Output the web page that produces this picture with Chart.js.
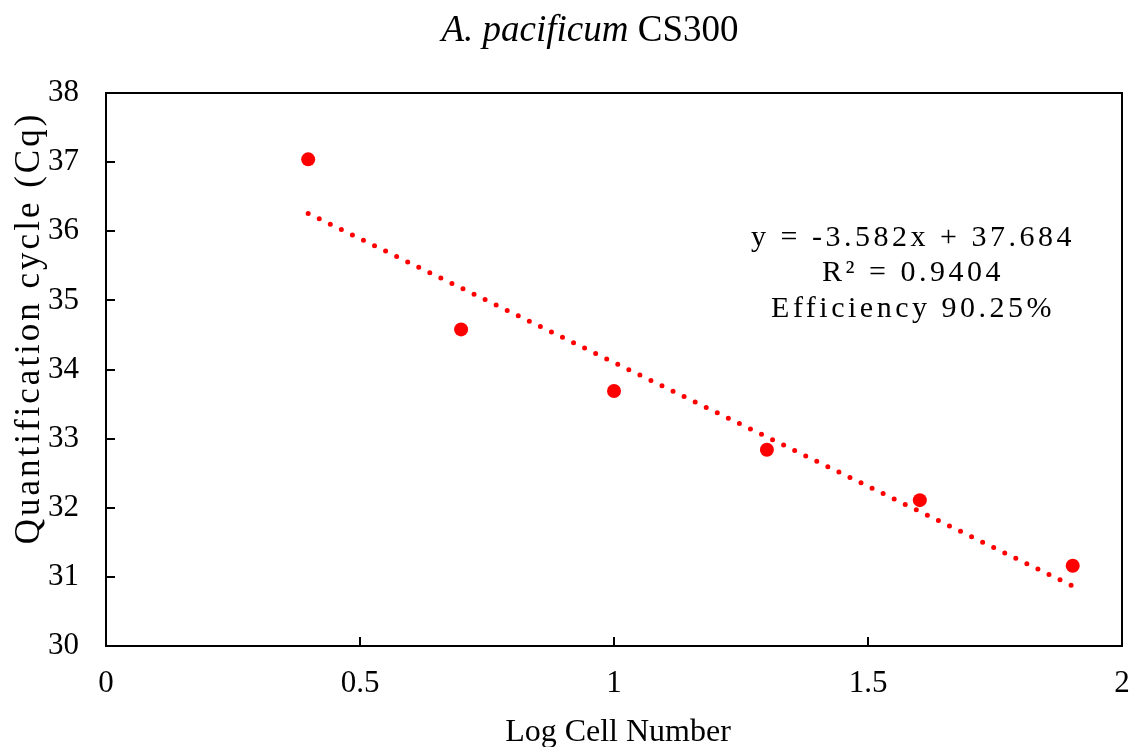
<!DOCTYPE html>
<html>
<head>
<meta charset="utf-8">
<script src="https://cdn.jsdelivr.net/npm/chart.js@4.4.1/dist/chart.umd.min.js"></script>
<style>
  html, body { margin: 0; padding: 0; background: #fff; }
  #wrap { width: 1136px; height: 747px; position: relative; }
</style>
</head>
<body>
<div id="wrap"><canvas id="c" width="1136" height="747"></canvas></div>
<script>
// Log10 of cell number per reaction and the measured quantification cycle
const logCells = [0.398, 0.699, 1.0, 1.301, 1.602, 1.903];
const cqValues = [37.04, 34.58, 33.69, 32.84, 32.11, 31.16];

// Linear fit reported on the chart
const fitSlope = -3.582;
const fitIntercept = 37.684;
const fitLabels = ['y = -3.582x + 37.684', 'R\u00B2 = 0.9404', 'Efficiency 90.25%'];

const xTicks = [0, 0.5, 1, 1.5, 2];
const yTicks = [30, 31, 32, 33, 34, 35, 36, 37, 38];

const SERIF = '"Liberation Serif", "Times New Roman", serif';
const RED = '#ff0000';

const fitStart = logCells[0];
const fitEnd = logCells[logCells.length - 1];
const fitLine = [
  { x: fitStart, y: fitSlope * fitStart + fitIntercept },
  { x: fitEnd, y: fitSlope * fitEnd + fitIntercept }
];

// Frame, inward tick marks, titles and the fit equation
const decorations = {
  id: 'decorations',
  afterDraw(chart) {
    const ctx = chart.ctx;
    const a = chart.chartArea;
    const xs = chart.scales.x, ys = chart.scales.y;
    ctx.save();
    ctx.strokeStyle = '#000';
    ctx.lineWidth = 2;
    ctx.strokeRect(a.left, a.top, a.right - a.left, a.bottom - a.top);
    ctx.beginPath();
    yTicks.forEach(v => {
      const py = Math.round(ys.getPixelForValue(v));
      ctx.moveTo(a.left, py); ctx.lineTo(a.left + 9, py);
    });
    xTicks.forEach(v => {
      const px = Math.round(xs.getPixelForValue(v));
      ctx.moveTo(px, a.bottom); ctx.lineTo(px, a.bottom - 9);
    });
    ctx.stroke();

    // Chart title: species name in italics followed by strain code
    ctx.fillStyle = '#000';
    ctx.textBaseline = 'alphabetic';
    const italicPart = 'A. pacificum';
    const plainPart = ' CS300';
    ctx.font = 'italic 37px ' + SERIF;
    const w1 = ctx.measureText(italicPart).width;
    ctx.font = '37px ' + SERIF;
    const w2 = ctx.measureText(plainPart).width;
    const tx = 590 - (w1 + w2) / 2;
    ctx.font = 'italic 37px ' + SERIF;
    ctx.textAlign = 'left';
    ctx.fillText(italicPart, tx, 41);
    ctx.font = '37px ' + SERIF;
    ctx.fillText(plainPart, tx + w1, 41);

    // Axis titles
    ctx.font = '32px ' + SERIF;
    ctx.textAlign = 'center';
    ctx.fillText('Log Cell Number', 618, 741);
    ctx.save();
    ctx.translate(39, 328);
    ctx.rotate(-Math.PI / 2);
    ctx.font = '35px ' + SERIF;
    if ('letterSpacing' in ctx) ctx.letterSpacing = '3px';
    ctx.fillText('Quantification cycle (Cq)', 0, 0);
    ctx.restore();

    // Fit equation block
    ctx.font = '30px ' + SERIF;
    ctx.textBaseline = 'middle';
    if ('letterSpacing' in ctx) ctx.letterSpacing = '3.5px';
    const ly = [238, 273, 309];
    fitLabels.forEach((t, i) => ctx.fillText(t, 913, ly[i]));
    ctx.restore();
  }
};

new Chart(document.getElementById('c'), {
  type: 'scatter',
  data: {
    datasets: [
      {
        label: 'Cq',
        data: logCells.map((x, i) => ({ x, y: cqValues[i] })),
        backgroundColor: RED,
        borderColor: RED,
        pointRadius: 7,
        pointBorderWidth: 0,
        order: 1
      },
      {
        type: 'line',
        label: 'Linear fit',
        data: fitLine,
        borderColor: RED,
        borderWidth: 5,
        borderDash: [0, 12.3],
        borderCapStyle: 'round',
        pointRadius: 0,
        fill: false,
        order: 2
      }
    ]
  },
  options: {
    responsive: false,
    animation: false,
    layout: { padding: { top: 93, right: 14, left: 0, bottom: 0 } },
    plugins: { legend: { display: false }, tooltip: { enabled: false }, title: { display: false } },
    scales: {
      x: {
        type: 'linear',
        min: 0, max: 2,
        grid: { display: false, drawTicks: false },
        border: { display: false },
        afterBuildTicks: s => { s.ticks = xTicks.map(v => ({ value: v })); },
        afterFit: s => { s.height = 101; s.paddingLeft = 0; s.paddingRight = 0; },
        ticks: {
          color: '#000',
          padding: 19,
          font: { family: SERIF, size: 31 },
          maxRotation: 0,
          callback: v => String(v)
        }
      },
      y: {
        type: 'linear',
        min: 30, max: 38,
        grid: { display: false, drawTicks: false },
        border: { display: false },
        afterBuildTicks: s => { s.ticks = yTicks.map(v => ({ value: v })); },
        afterFit: s => { s.width = 106; s.paddingTop = 0; s.paddingBottom = 0; },
        ticks: {
          color: '#000',
          padding: 27,
          font: { family: SERIF, size: 31 },
          callback: v => String(v)
        }
      }
    }
  },
  plugins: [decorations]
});
</script>
</body>
</html>
